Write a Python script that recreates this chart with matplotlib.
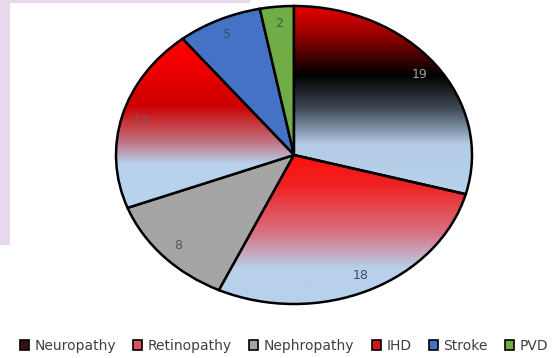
import numpy as np
import matplotlib.pyplot as plt
from matplotlib.patches import Patch, Rectangle
from matplotlib.colors import LinearSegmentedColormap

labels = ['Neuropathy', 'Retinopathy', 'Nephropathy', 'IHD', 'Stroke', 'PVD']
values = [19, 18, 8, 13, 5, 2]

# flat colours (used for legend and the plain slices)
flat_colors = ['#3a1010', '#e0505a', '#a5a5a5', '#d01818', '#4472c4', '#70ad47']
label_colors = ['#a0a0a0', '#404a66', '#555555', '#7a5a60', '#34507a', '#406030']

# vertical gradients for some slices (top -> bottom)
gradients = {
    'Neuropathy': [(0.0, '#e80000'), (0.14, '#a00000'), (0.37, '#000000'),
                   (0.55, '#404a56'), (0.74, '#b4cce6'), (1.0, '#b8d2ec')],
    'Retinopathy': [(0.0, '#ff1010'), (0.2, '#f02020'), (0.52, '#d87080'),
                    (0.76, '#b8d0ea'), (1.0, '#b8d2ec')],
    'IHD': [(0.0, '#ff0000'), (0.15, '#f20000'), (0.4, '#cc0000'),
            (0.62, '#c07888'), (0.74, '#b8d2ec'), (1.0, '#b8d2ec')],
}

W, H = 552, 358
fig = plt.figure(figsize=(W / 100, H / 100), dpi=100)
fig.patch.set_facecolor('white')

# lavender strips of the page behind the chart
fig.patches.append(Rectangle((0, 1 - 245 / H), 10 / W, 245 / H, transform=fig.transFigure,
                             facecolor='#e9d9ef', edgecolor='none', zorder=0))
fig.patches.append(Rectangle((0, 1 - 3 / H), 250 / W, 3 / H, transform=fig.transFigure,
                             facecolor='#e9d9ef', edgecolor='none', zorder=0))

# pie is an ellipse: centre (294,155), rx 178, ry 149 px
cx, cy, rx, ry = 294, 155, 178, 149
lim = 1.05
ax = fig.add_axes([(cx - rx * lim) / W, 1 - (cy + ry * lim) / H,
                   2 * rx * lim / W, 2 * ry * lim / H])

wedges, texts, autotexts = ax.pie(
    values, colors=flat_colors, startangle=90, counterclock=False,
    autopct=lambda p: f'{round(p * sum(values) / 100):d}', pctdistance=0.89,
    wedgeprops=dict(edgecolor='black', linewidth=1.8),
    textprops=dict(fontsize=9))

for t, c in zip(autotexts, label_colors):
    t.set_color(c)
    t.set_zorder(5)

for w, name in zip(wedges, labels):
    if name not in gradients:
        w.set_zorder(1.5)
        continue
    cmap = LinearSegmentedColormap.from_list(name, gradients[name])
    ext = w.get_path().get_extents()
    grad = np.linspace(0, 1, 256).reshape(-1, 1)
    im = ax.imshow(grad, cmap=cmap, aspect='auto', origin='upper',
                   extent=(ext.x0, ext.x1, ext.y0, ext.y1), zorder=2,
                   interpolation='bilinear')
    im.set_clip_path(w)
    w.set_facecolor('none')
    w.set_zorder(3)

ax.set_xlim(-lim, lim)
ax.set_ylim(-lim, lim)
ax.set_aspect('auto')
ax.axis('off')

handles = [Patch(facecolor=c, edgecolor='black', linewidth=1.2) for c in flat_colors]
fig.legend(handles, labels, loc='center', bbox_to_anchor=(284 / W, 1 - 346 / H),
           ncol=6, frameon=False, fontsize=10, handlelength=0.65, handleheight=0.65,
           handletextpad=0.4, columnspacing=1.25, labelcolor='#404040')

fig.savefig('out.png', dpi=100)
